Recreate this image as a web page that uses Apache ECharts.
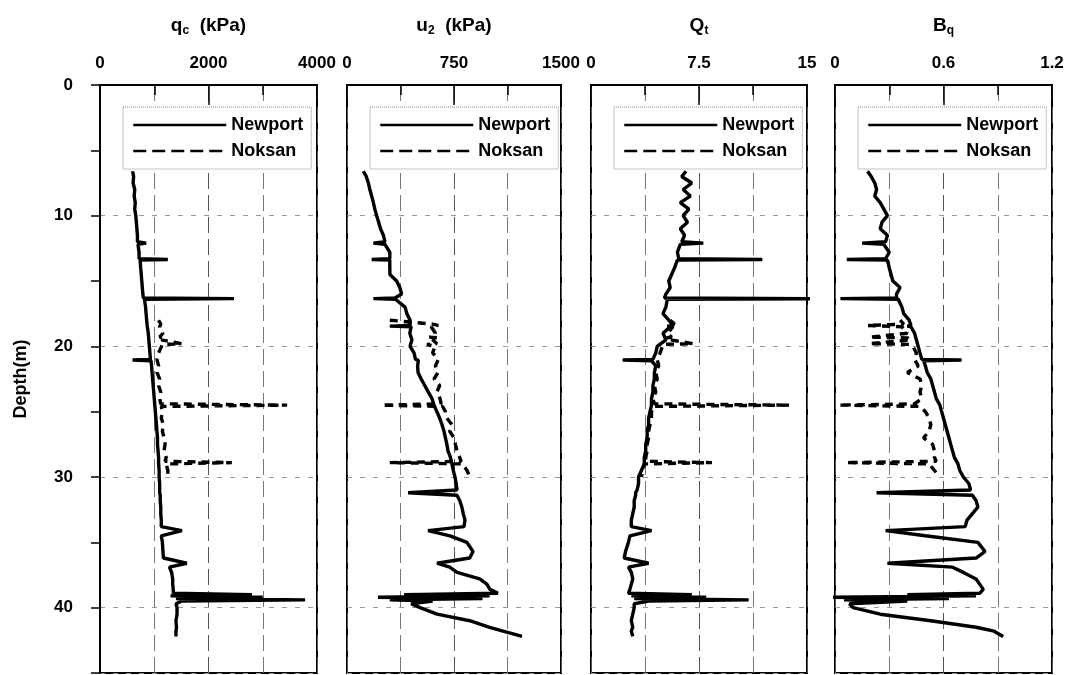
<!DOCTYPE html>
<html>
<head>
<meta charset="utf-8">
<script src="https://cdn.jsdelivr.net/npm/echarts@6/dist/echarts.min.js"></script>
<style>
html,body{margin:0;padding:0;background:#fff;}
#c{width:1069px;height:675px;}
</style>
</head>
<body>
<div id="c"></div>
<script>
// ---- Data ----
const seriesNames = ['Newport', 'Noksan'];
const panelTitles = [['q', 'c', '  (kPa)'], ['u', '2', '  (kPa)'], ['Q', 't', ''], ['B', 'q', '']];
const xMax = [4000, 1500, 15, 1.2];
const xLabelStep = [2000, 750, 7.5, 0.6];
const depthMax = 45;
const depthLabelStep = 10;
const depthTickStep = 5;

const depthNewport = [6.6,7.0,7.5,8.0,8.5,9.0,9.5,10.0,10.5,11.0,11.5,12.0,12.1,12.2,12.8,13.3,13.35,13.4,14.0,14.5,15.0,15.5,16.0,16.3,16.35,16.4,17.0,17.5,18.0,18.4,18.45,18.5,19.0,19.5,20.0,20.5,21.0,21.05,21.1,21.5,22,22.5,23,23.5,24,24.5,25,25.5,26,26.5,27,27.5,28,28.5,29,29.5,30,30.5,31.0,31.2,31.4,31.8,32.3,32.8,33.3,33.8,34.1,34.5,35.0,35.7,36.2,36.6,36.9,37.3,37.8,38.2,38.6,38.9,39.0,39.1,39.2,39.3,39.4,39.5,39.7,40.0,40.5,41.0,41.5,41.8,42.2];
const qcNewport = [600,620,610,640,630,650,640,660,670,680,690,690,850,700,720,720,1250,740,750,760,770,780,790,800,2470,820,840,850,860,870,880,880,890,900,910,920,930,600,940,950,960,970,980,990,1000,1010,1020,1030,1040,1050,1060,1060,1070,1080,1080,1090,1090,1100,1100,1100,1110,1110,1120,1120,1130,1130,1510,1130,1150,1160,1170,1600,1280,1320,1340,1340,1350,1350,2800,1300,3000,1400,3780,1500,1400,1420,1420,1400,1410,1400,1400];
const u2Newport = [114,135,150,160,173,185,195,208,222,235,255,266,185,266,300,300,173,300,300,301,348,370,383,336,185,340,407,420,442,442,300,450,440,455,442,470,480,500,490,495,498,520,545,570,596,610,630,650,666,680,690,700,708,725,735,745,757,765,771,428,771,790,805,815,827,820,568,722,841,883,860,631,720,771,930,980,1002,1058,400,1000,217,950,300,600,450,512,631,860,1000,1094,1227];
const QtNewport = [6.6,6.3,7.0,6.4,6.9,6.2,6.8,6.4,6.7,6.2,6.5,6.3,7.8,6.2,6.0,6.1,11.9,6.0,5.8,5.6,5.4,5.5,5.2,5.1,16,5.3,5.2,5.0,5.4,5.7,5.3,5.5,5.0,5.2,4.6,4.5,4.3,2.2,4.2,4.5,4.4,4.4,4.3,4.3,4.2,4.2,4.1,4.0,4.0,3.9,3.9,3.8,3.8,3.7,3.7,3.5,3.3,3.3,3.2,3.1,3.1,3.0,3.0,2.9,2.8,2.8,4.2,2.7,2.6,2.4,2.3,4.0,2.6,2.8,2.9,2.8,2.7,2.6,7.0,2.8,8.0,3.0,10.95,4.0,3.0,3.0,2.9,2.8,2.9,2.8,2.9];
const BqNewport = [0.18,0.20,0.22,0.23,0.22,0.25,0.27,0.29,0.26,0.25,0.29,0.28,0.15,0.27,0.30,0.28,0.065,0.29,0.30,0.31,0.32,0.36,0.34,0.34,0.03,0.35,0.37,0.38,0.41,0.42,0.40,0.42,0.44,0.45,0.46,0.47,0.48,0.70,0.49,0.50,0.51,0.53,0.54,0.55,0.56,0.58,0.59,0.60,0.61,0.62,0.63,0.64,0.65,0.66,0.68,0.69,0.71,0.74,0.75,0.23,0.76,0.78,0.79,0.76,0.73,0.72,0.28,0.50,0.79,0.83,0.78,0.29,0.65,0.71,0.78,0.80,0.82,0.80,0.40,0.78,-0.03,0.63,0.05,0.40,0.08,0.10,0.25,0.53,0.78,0.88,0.93];

const depthNoksan = [18.0,18.3,18.4,18.5,19.0,19.3,19.35,19.5,19.8,19.85,20.0,20.5,21,21.5,22,22.5,23,23.5,24,24.4,24.5,24.6,25,25.5,26,26.5,27,27.5,28,28.5,28.8,28.9,29.0,29.5,30.0];
const qcNoksan = [1080,1120,1150,1100,1160,1100,1200,1130,1500,1150,1120,1080,1050,1080,1050,1100,1080,1120,1100,1120,3450,1130,1150,1130,1170,1150,1180,1200,1180,1220,1200,2430,1220,1250,1250];
const u2Noksan = [300,600,640,590,620,580,640,600,630,560,617,600,640,620,638,610,650,630,652,660,245,670,690,700,736,720,750,760,771,790,800,300,810,841,862];
const QtNoksan = [5.5,5.8,5.4,5.7,5.3,5.6,5.2,5.5,7.1,5.0,5.0,4.8,4.6,4.7,4.5,4.6,4.4,4.5,4.3,4.4,13.8,4.3,4.2,4.2,4.1,4.0,4.0,3.9,3.9,3.8,3.8,8.4,3.7,3.6,3.5];
const BqNoksan = [0.36,0.38,0.18,0.37,0.40,0.19,0.40,0.42,0.19,0.41,0.43,0.45,0.44,0.46,0.40,0.47,0.48,0.47,0.48,0.44,0.02,0.47,0.50,0.52,0.53,0.52,0.49,0.54,0.55,0.55,0.56,0.06,0.52,0.55,0.58];

const newportVals = [qcNewport, u2Newport, QtNewport, BqNewport];
const noksanVals = [qcNoksan, u2Noksan, QtNoksan, BqNoksan];

// ---- Layout ----
const FONT = '"Liberation Sans", Arial, sans-serif';
const panelLeft = [100, 347, 591, 835];
const panelWidth = [217, 214, 216, 217];
const gridTop = 85, gridHeight = 588;

function pairs(xs, ys) { return xs.map((v, i) => [v, ys[i]]); }

const grids = [], xAxes = [], yAxes = [], series = [], legends = [];
for (let p = 0; p < 4; p++) {
  grids.push({ left: panelLeft[p], top: gridTop, width: panelWidth[p], height: gridHeight,
    show: true, borderColor: '#000', borderWidth: 2, backgroundColor: 'transparent', containLabel: false });
  const t = panelTitles[p];
  xAxes.push({
    gridIndex: p, type: 'value', position: 'top', min: 0, max: xMax[p], interval: xLabelStep[p],
    name: '{m|' + t[0] + '}{s|' + t[1] + '}' + (t[2] ? '{m|' + t[2] + '}' : ''),
    nameLocation: 'middle', nameGap: 48,
    nameTextStyle: { rich: {
      m: { fontFamily: FONT, fontWeight: 'bold', fontSize: 19, color: '#000', lineHeight: 22 },
      s: { fontFamily: FONT, fontWeight: 'bold', fontSize: 12, color: '#000', lineHeight: 8, verticalAlign: 'bottom' }
    } },
    axisLine: { show: true, lineStyle: { color: '#000', width: 2 } },
    axisTick: { show: true, inside: true, length: 20, lineStyle: { color: '#000', width: 1.5 } },
    minorTick: { show: true, splitNumber: 2, length: 10, lineStyle: { color: '#000', width: 1.5 } },
    splitLine: { show: true, lineStyle: { color: '#555', width: 1, type: [16, 6] } },
    minorSplitLine: { show: true, lineStyle: { color: '#777', width: 1, type: [16, 6] } },
    axisLabel: { show: true, margin: 13, fontFamily: FONT, fontWeight: 'bold', fontSize: 17, color: '#000',
      formatter: v => String(v) }
  });
  // depth grid-line axis
  yAxes.push({
    gridIndex: p, type: 'value', position: 'right', inverse: true, min: 0, max: depthMax, interval: depthLabelStep,
    axisLine: { show: false }, axisTick: { show: false }, axisLabel: { show: false },
    splitLine: { show: true, lineStyle: { color: '#999', width: 1, type: [5, 8] } }
  });
  series.push({
    name: seriesNames[0], type: 'line', xAxisIndex: p, yAxisIndex: p, symbol: 'none', clip: true,
    data: pairs(newportVals[p], depthNewport), z: 3,
    lineStyle: { color: '#000', width: 3.4, type: 'solid' }, itemStyle: { color: '#000' }
  });
  series.push({
    name: seriesNames[1], type: 'line', xAxisIndex: p, yAxisIndex: p, symbol: 'none', clip: true,
    data: pairs(noksanVals[p], depthNoksan), z: 4,
    lineStyle: { color: '#000', width: 3.4, type: [8, 6] }, itemStyle: { color: '#000' }
  });
  legends.push({
    data: [{ name: seriesNames[0] }, { name: seriesNames[1], lineStyle: { type: [13, 6] } }],
    orient: 'vertical', left: panelLeft[p] + 23, top: 107,
    itemWidth: 93, itemHeight: 14, itemGap: 8, padding: [9, 8, 9, 9],
    backgroundColor: '#fff', borderColor: '#888', borderWidth: 1, borderType: 'dotted',
    selectedMode: false,
    itemStyle: { color: 'rgba(0,0,0,0)', borderColor: 'rgba(0,0,0,0)', borderWidth: 0, opacity: 0 },
    textStyle: { fontFamily: FONT, fontWeight: 'bold', fontSize: 18, color: '#000' },
    lineStyle: { width: 2.5 }
  });
}
// depth label axis on first panel
yAxes.push({
  gridIndex: 0, type: 'value', position: 'left', inverse: true, min: 0, max: depthMax, interval: depthTickStep,
  name: 'Depth(m)', nameLocation: 'middle', nameGap: 70,
  nameTextStyle: { fontFamily: FONT, fontWeight: 'bold', fontSize: 18, color: '#000' },
  axisLine: { show: true, lineStyle: { color: '#000', width: 2 } },
  axisTick: { show: true, inside: false, length: 9, lineStyle: { color: '#000', width: 1.5 } },
  splitLine: { show: false },
  axisLabel: { show: true, margin: 27, fontFamily: FONT, fontWeight: 'bold', fontSize: 17, color: '#000',
    formatter: v => (v % depthLabelStep === 0 && v < depthMax) ? String(v) : '' }
});

const chart = echarts.init(document.getElementById('c'), null, { renderer: 'canvas' });
chart.setOption({
  animation: false,
  backgroundColor: '#fff',
  grid: grids, xAxis: xAxes, yAxis: yAxes, series: series, legend: legends
});
</script>
</body>
</html>
